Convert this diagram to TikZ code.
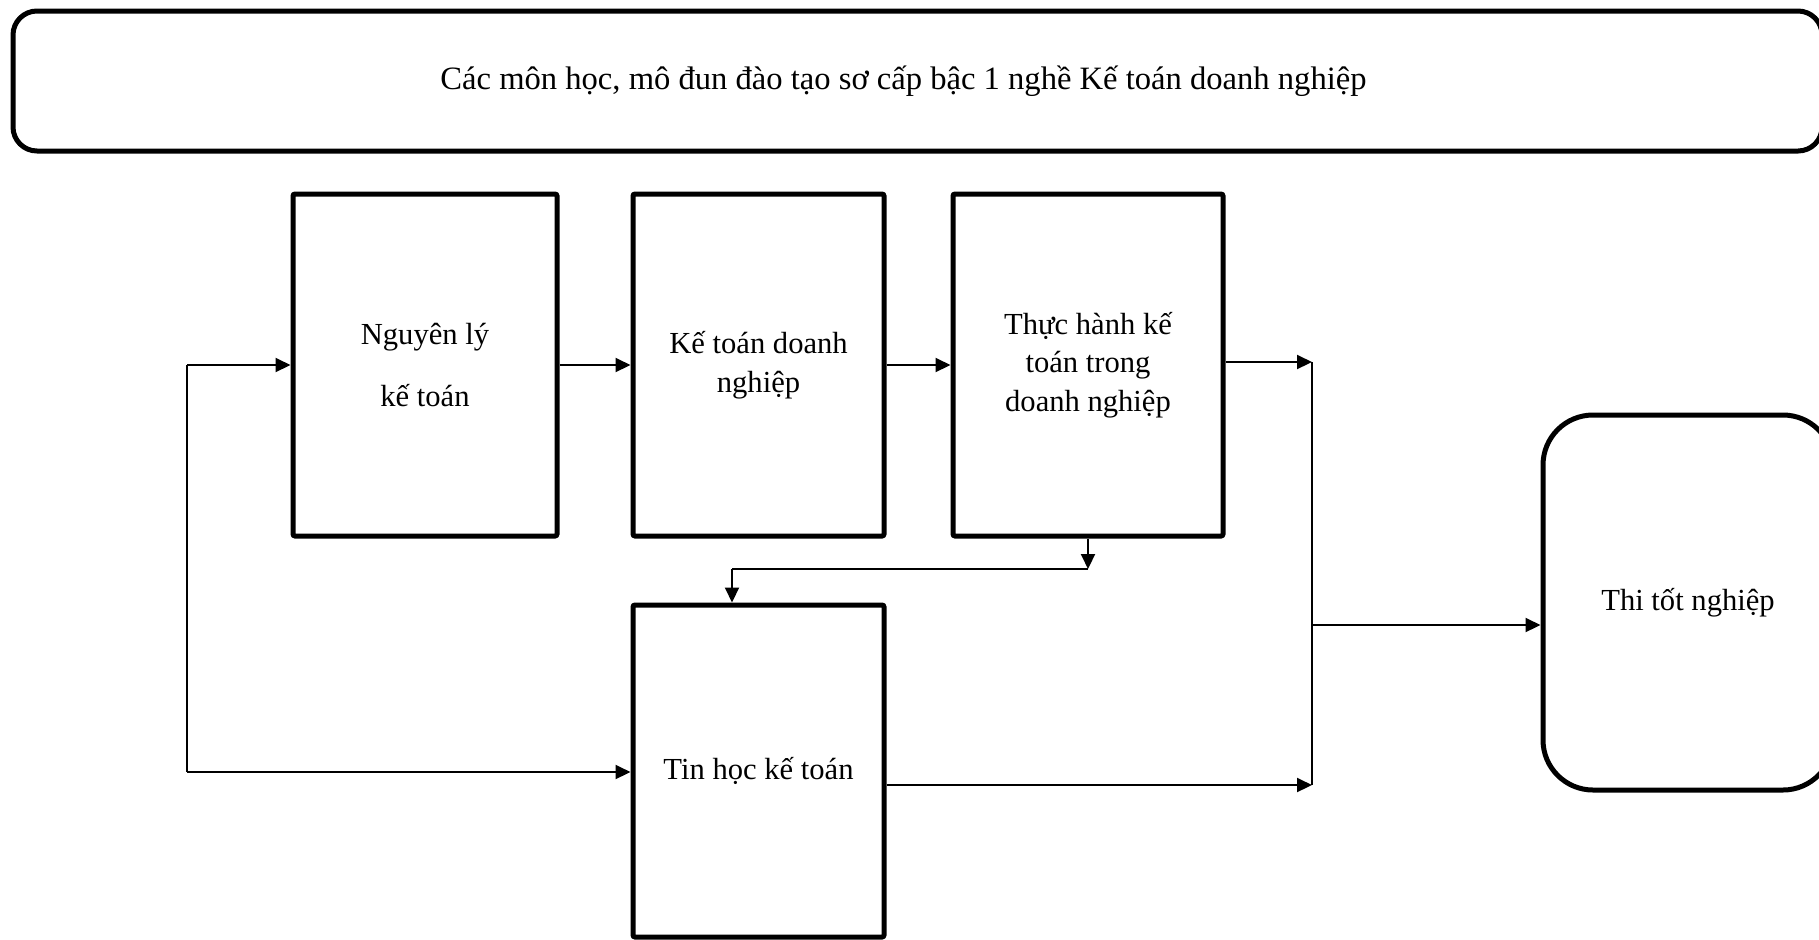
\documentclass[tikz,border=0pt]{standalone}
\usepackage{fontspec}
\setmainfont{Liberation Serif}
\usetikzlibrary{arrows.meta}

\begin{document}
\begin{tikzpicture}[
    x=0.5pt, y=-0.5pt,
    every node/.style={font=\fontsize{15.3}{19.3}\selectfont},
    module/.style={draw, line width=2.5pt, rounded corners=1pt, align=center, inner sep=0pt},
    roundbox/.style={module, rounded corners=#1},
    link/.style={line width=1pt},
    arr/.style={link, -{Triangle[length=7.5pt,width=7pt]}}
]
\useasboundingbox (0,0) rectangle (1819,939);

\node[roundbox=12pt, minimum width=904.5pt, minimum height=70pt, font=\fontsize{16.3}{20}\selectfont] (title) at (917.5,81) {Các môn học, mô đun đào tạo sơ cấp bậc 1 nghề Kế toán doanh nghiệp\hspace*{14pt}};
\node[module, minimum width=132pt, minimum height=171pt] (nguyenly) at (425,365) {Nguyên lý\\[11.7pt]kế toán};
\node[module, minimum width=125.5pt, minimum height=171pt] (ketoan) at (758.5,365) {Kế toán doanh\\nghiệp};
\node[module, minimum width=135pt, minimum height=171pt] (thuchanh) at (1088,365) {Thực hành kế\\toán trong\\doanh nghiệp};
\node[module, minimum width=125.5pt, minimum height=166pt] (tinhoc) at (758.5,771) {Tin học kế toán};
\node[roundbox=25pt, minimum width=145pt, minimum height=187.5pt] (thi) at (1688,602.5) {Thi tốt nghiệp};

% left feed line
\coordinate (lt) at (187,365);
\coordinate (lb) at (187,772);
\draw[link] (lt) -- (lb);
\draw[arr] (lt) -- (nguyenly.west);
\draw[arr] (lb) -- (lb -| tinhoc.west);

\draw[arr] (nguyenly) -- (ketoan);
\draw[arr] (ketoan) -- (thuchanh);

% branch down to Tin hoc
\coordinate (dj) at (1088,569);
\coordinate (dl) at (732,569);
\draw[arr] (thuchanh.south) -- (dj);
\draw[link] (dj) -- (dl);
\draw[arr] (dl) -- (dl |- tinhoc.north);

% right collector line
\coordinate (rt) at (1312,362);
\coordinate (rm) at (1312,625);
\coordinate (rb) at (1312,785);
\draw[link] (rt) -- (rb);
\draw[arr] (thuchanh.east |- rt) -- (rt);
\draw[arr] (tinhoc.east |- rb) -- (rb);
\draw[arr] (rm) -- (rm -| thi.west);
\end{tikzpicture}
\end{document}
